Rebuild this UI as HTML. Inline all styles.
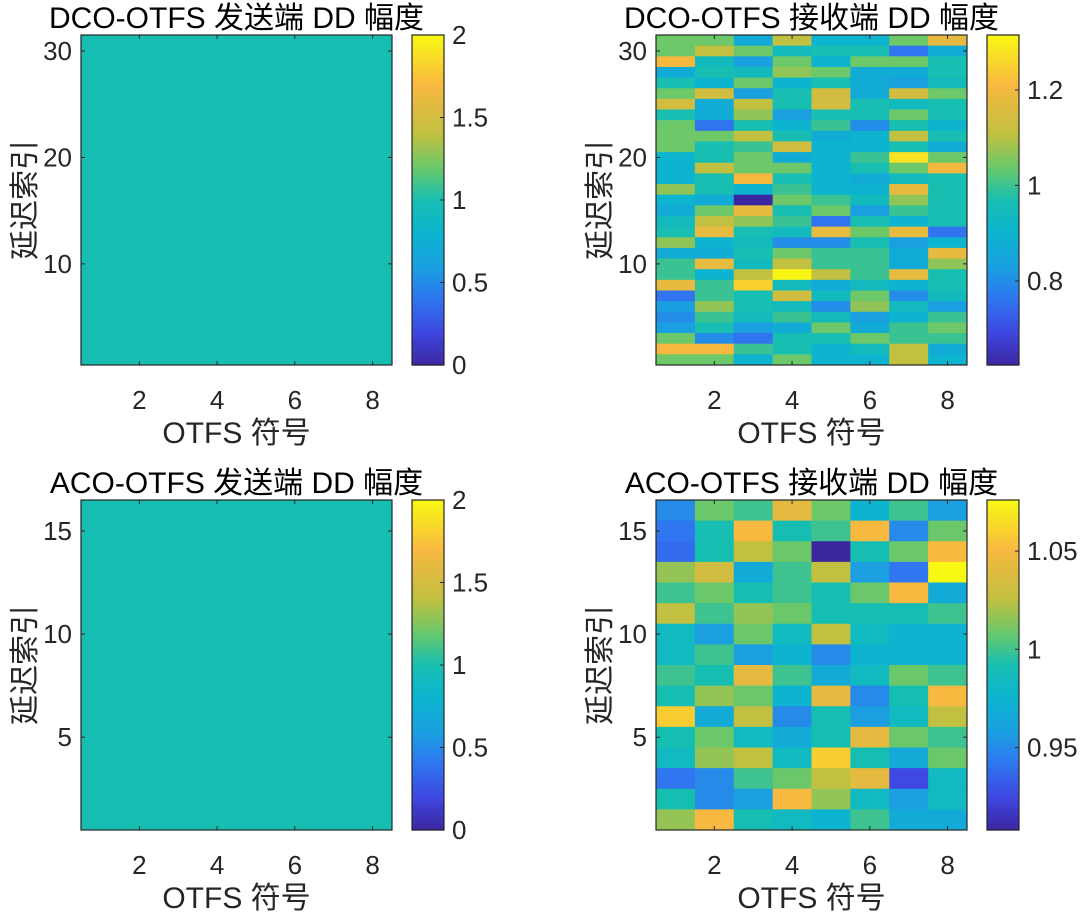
<!DOCTYPE html>
<html><head><meta charset="utf-8">
<style>
html,body{margin:0;padding:0;background:#fff;}
svg{display:block;font-family:"Liberation Sans","Noto Sans CJK SC",sans-serif;}
</style></head>
<body>
<svg id="fig" width="1080" height="913" viewBox="0 0 1080 913" xmlns="http://www.w3.org/2000/svg"></svg>
<script>
// ---- data ----
const colTicks = [2, 4, 6, 8];
const txDcoValue = 1;
const txAcoValue = 1;
const txTicks = [0, 0.5, 1, 1.5, 2];
const dcoYTicks = [10, 20, 30];
const acoYTicks = [5, 10, 15];
const rxDcoTicks = [0.8, 1, 1.2];
const rxAcoTicks = [0.95, 1, 1.05];
const rxDcoRange = [0.624, 1.315];
const rxAcoRange = [0.908, 1.076];
// rows listed from delay index 31 (top) down to 1
const rxDco = [
[1.04,1.04,0.87,1.11,0.90,0.90,1.04,1.18],
[1.04,1.11,1.04,0.94,0.97,0.97,0.76,0.87],
[1.21,0.94,0.83,1.04,0.90,1.04,1.04,0.97],
[0.87,0.97,0.94,1.07,1.04,0.87,0.87,0.97],
[0.97,0.90,1.04,0.90,0.97,0.87,0.83,0.94],
[1.04,1.14,0.83,0.97,1.14,0.87,1.14,1.04],
[1.14,0.87,1.11,0.97,1.14,0.97,0.94,0.97],
[0.97,0.87,1.07,0.83,0.97,0.97,1.04,0.97],
[1.04,0.76,0.97,0.90,1.00,0.80,0.97,0.90],
[1.04,1.04,1.11,0.97,0.87,0.90,1.11,0.97],
[1.04,0.97,1.00,1.14,0.90,0.90,0.97,0.87],
[0.90,0.97,1.04,0.87,0.90,1.00,1.28,1.04],
[0.90,1.11,1.04,1.04,0.90,0.97,1.04,1.21],
[0.90,0.97,1.21,0.97,0.90,0.87,0.94,0.97],
[1.07,0.97,0.90,1.00,0.90,0.90,1.18,0.97],
[0.90,0.87,0.62,1.04,1.00,0.94,1.07,0.97],
[0.87,1.04,1.18,0.97,1.04,0.83,1.00,0.97],
[0.94,1.11,1.07,1.00,0.76,0.97,0.90,0.97],
[0.97,1.18,0.97,0.94,1.18,1.04,1.18,0.76],
[1.07,0.90,0.94,0.80,0.80,0.97,0.83,0.90],
[0.87,0.87,0.97,1.04,1.00,1.00,0.87,1.18],
[1.00,1.18,0.94,1.11,1.00,1.00,0.87,1.07],
[1.00,0.90,1.11,1.31,1.11,1.00,1.18,0.97],
[1.18,1.00,1.25,0.94,0.87,0.94,0.90,0.97],
[0.76,1.00,0.97,1.14,0.94,1.04,0.80,0.94],
[0.83,1.07,0.97,0.94,0.80,1.07,0.94,0.83],
[0.80,1.00,0.94,1.00,0.94,0.83,0.90,1.00],
[0.83,0.97,0.83,0.87,1.04,0.87,1.00,1.04],
[1.04,0.80,0.76,0.97,0.97,1.04,1.00,1.00],
[1.21,1.21,1.00,0.97,0.90,0.94,1.11,0.87],
[1.04,1.04,0.90,1.04,0.90,0.90,1.11,0.90]
];
// rows listed from delay index 16 (top) down to 1
const rxAco = [
[0.950,1.009,1.000,1.042,1.009,0.975,1.000,0.958],
[0.942,0.992,1.051,0.992,1.000,1.051,0.950,1.009],
[0.938,0.992,1.026,1.009,0.908,0.992,1.009,1.051],
[1.017,1.034,0.967,1.000,1.026,0.958,0.942,1.076],
[1.000,1.009,0.992,1.000,0.992,1.009,1.051,0.967],
[1.026,1.000,1.017,1.009,0.992,0.992,0.992,1.000],
[0.984,0.958,1.009,0.984,1.026,0.984,0.975,0.975],
[0.984,1.000,0.958,0.975,0.950,0.975,0.975,0.975],
[1.000,0.992,1.042,1.000,0.967,0.984,1.009,1.000],
[0.992,1.017,1.009,0.975,1.042,0.950,0.992,1.051],
[1.059,0.967,1.026,0.950,0.992,0.958,0.984,1.026],
[0.992,1.009,0.984,0.967,0.992,1.042,1.009,1.000],
[0.984,1.017,1.026,0.984,1.059,0.992,0.967,1.009],
[0.942,0.950,1.000,1.009,1.026,1.042,0.925,0.984],
[0.992,0.950,0.958,1.051,1.017,0.984,0.958,0.984],
[1.017,1.051,0.992,0.984,0.975,1.000,0.967,0.967]
];

// ---- rendering ----
const NS = 'http://www.w3.org/2000/svg';
const svg = document.getElementById('fig');
const stops = [
 [0.00,[59,38,160]],[0.10,[63,71,224]],[0.20,[47,117,240]],[0.30,[26,160,224]],
 [0.40,[12,180,207]],[0.50,[22,190,178]],[0.60,[106,200,106]],[0.70,[192,192,64]],
 [0.85,[248,184,64]],[1.00,[248,248,20]]];
function cmap(t){
  t = Math.max(0, Math.min(1, t));
  for (let i = 1; i < stops.length; i++) {
    if (t <= stops[i][0]) {
      const a = stops[i-1], b = stops[i], f = (t - a[0]) / (b[0] - a[0]);
      const c = a[1].map((v, k) => Math.round(v + (b[1][k] - v) * f));
      return 'rgb(' + c.join(',') + ')';
    }
  }
  return 'rgb(248,248,20)';
}
function el(tag, attrs, parent, text){
  const e = document.createElementNS(NS, tag);
  for (const k in attrs) e.setAttribute(k, attrs[k]);
  if (text !== undefined) e.textContent = text;
  (parent || svg).appendChild(e);
  return e;
}

function panel(o){
  const g = el('g', {});
  
  
  const x0 = o.x, x1 = o.x + 311, y0 = o.y, y1 = o.y + 330;
  const nc = 8, nr = o.rows;
  const xs = v => x0 + (v - 0.5) / nc * (x1 - x0);
  const ys = v => y1 - (v - 0.5) / nr * (y1 - y0);
  const ct = v => (v - o.range[0]) / (o.range[1] - o.range[0]);
  for (let r = 0; r < nr; r++) {
    const idx = nr - r;
    for (let c = 0; c < nc; c++) {
      const val = o.uniform !== undefined ? o.uniform : o.data[r][c];
      const cell = el('rect', {x: xs(c + 0.5), y: ys(idx + 0.5), width: xs(c + 1.5) - xs(c + 0.5) + 0.5, height: ys(idx - 0.5) - ys(idx + 0.5) + 0.5, fill: cmap(ct(val))}, g);
      
      
    }
  }
  const box = el('rect', {x: x0, y: y0, width: x1 - x0, height: y1 - y0, fill: 'none', stroke: '#262626', 'stroke-width': 1.2}, g);
  
  
  colTicks.forEach(t => {
    const X = xs(t);
    el('line', {x1: X, x2: X, y1: y1, y2: y1 - 4, stroke: '#262626'}, g);
    el('line', {x1: X, x2: X, y1: y0, y2: y0 + 4, stroke: '#262626'}, g);
    const lb = el('text', {x: X, y: y1 + 44, 'font-size': 26, fill: '#262626', 'text-anchor': 'middle'}, g, String(t));
    
    
  });
  o.yticks.forEach(t => {
    const Y = ys(t);
    el('line', {x1: x0, x2: x0 + 4, y1: Y, y2: Y, stroke: '#262626'}, g);
    el('line', {x1: x1, x2: x1 - 4, y1: Y, y2: Y, stroke: '#262626'}, g);
    const lb = el('text', {x: x0 - 9, y: Y + 9, 'font-size': 26, fill: '#262626', 'text-anchor': 'end'}, g, String(t));
    
    
  });
  const title = el('text', {x: (x0 + x1) / 2, y: y0 - 7, 'font-size': 30, fill: '#000', 'text-anchor': 'middle'}, g, o.title);
  
  
  const xl = el('text', {x: (x0 + x1) / 2, y: y1 + 78, 'font-size': 30, fill: '#262626', 'text-anchor': 'middle'}, g, 'OTFS 符号');
  
  
  const yl = el('text', {x: 0, y: 0, 'font-size': 30, fill: '#262626', 'text-anchor': 'middle', transform: 'translate(' + (o.x - 46) + ',' + ((y0 + y1) / 2) + ') rotate(-90)'}, g, '延迟索引');
  
  
  const cx0 = o.x + 331, cw = 32;
  const cb = el('g', {}, g);
  
  
  const N = 100;
  for (let i = 0; i < N; i++) {
    el('rect', {x: cx0, y: y1 - (i + 1) / N * (y1 - y0), width: cw, height: (y1 - y0) / N + 0.6, fill: cmap((i + 0.5) / N)}, cb);
  }
  el('rect', {x: cx0, y: y0, width: cw, height: y1 - y0, fill: 'none', stroke: '#262626', 'stroke-width': 1.2}, cb);
  o.cticks.forEach(t => {
    const Y = y1 - ct(t) * (y1 - y0);
    el('line', {x1: cx0 + cw, x2: cx0 + cw - 4, y1: Y, y2: Y, stroke: '#262626'}, cb);
    const lb = el('text', {x: cx0 + cw + 8, y: Y + 9, 'font-size': 26, fill: '#262626'}, cb, String(t));
    
    
  });
}

panel({name: 'dco-tx-panel', x: 81, y: 35, rows: 31, uniform: txDcoValue, range: [0, 2], yticks: dcoYTicks, cticks: txTicks, title: 'DCO-OTFS 发送端 DD 幅度'});
panel({name: 'dco-rx-panel', x: 656, y: 35, rows: 31, data: rxDco, range: rxDcoRange, yticks: dcoYTicks, cticks: rxDcoTicks, title: 'DCO-OTFS 接收端 DD 幅度'});
panel({name: 'aco-tx-panel', x: 81, y: 500, rows: 16, uniform: txAcoValue, range: [0, 2], yticks: acoYTicks, cticks: txTicks, title: 'ACO-OTFS 发送端 DD 幅度'});
panel({name: 'aco-rx-panel', x: 656, y: 500, rows: 16, data: rxAco, range: rxAcoRange, yticks: acoYTicks, cticks: rxAcoTicks, title: 'ACO-OTFS 接收端 DD 幅度'});
</script>
</body></html>
